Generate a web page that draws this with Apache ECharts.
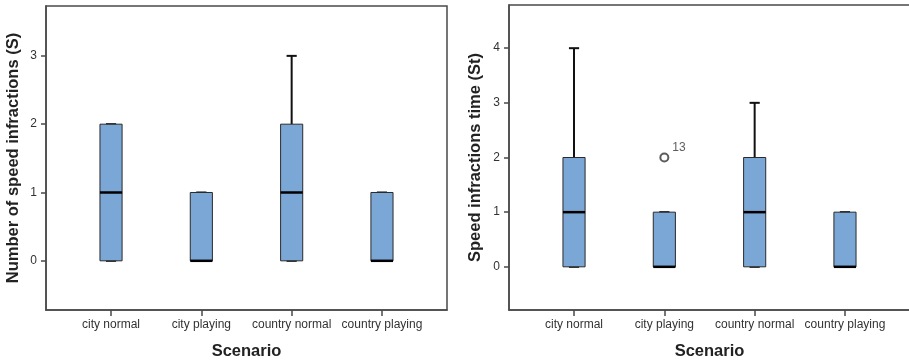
<!DOCTYPE html>
<html><head><meta charset="utf-8">
<script src="https://cdn.jsdelivr.net/npm/echarts@6/dist/echarts.min.js"></script>
<style>html,body{margin:0;padding:0;background:#fff}#c{width:909px;height:362px}</style>
</head><body><div id="c"></div>
<script>
// ---- data ----
var categories = ['city normal', 'city playing', 'country normal', 'country playing'];
// [min, q1, median, q3, max]
var countStats = [
  [0, 0, 1, 2, 2],
  [0, 0, 0, 1, 1],
  [0, 0, 1, 2, 3],
  [0, 0, 0, 1, 1]
];
var timeStats = [
  [0, 0, 1, 2, 4],
  [0, 0, 0, 1, 1],
  [0, 0, 1, 2, 3],
  [0, 0, 0, 1, 1]
];
var timeOutlierCategory = [1];
var timeOutlierValue = [2];
var timeOutlierLabel = ['13'];
var countTicks = [0, 1, 2, 3];
var timeTicks = [0, 1, 2, 3, 4];
var catTicks = [0, 1, 2, 3];

var FONT = '"Liberation Sans", Arial, sans-serif';
var FRAME = '#4a4a4a';

function renderBox(params, api) {
  var x = api.value(0);
  var mn = api.value(1), q1 = api.value(2), md = api.value(3), q3 = api.value(4), mx = api.value(5);
  var w = api.size([0.245, 0])[0];
  var capW = w * 0.46;
  var pMin = api.coord([x, mn]), pQ1 = api.coord([x, q1]), pMd = api.coord([x, md]);
  var pQ3 = api.coord([x, q3]), pMax = api.coord([x, mx]);
  var cx = pMd[0];
  var ch = [];
  if (mx > q3) {
    ch.push({type: 'line', shape: {x1: cx, y1: pQ3[1], x2: cx, y2: pMax[1]}, style: {stroke: '#111', lineWidth: 2}});
  }
  ch.push({type: 'line', shape: {x1: cx - capW / 2, y1: pMax[1], x2: cx + capW / 2, y2: pMax[1]}, style: {stroke: '#111', lineWidth: 2}});
  if (mn < q1) {
    ch.push({type: 'line', shape: {x1: cx, y1: pQ1[1], x2: cx, y2: pMin[1]}, style: {stroke: '#111', lineWidth: 2}});
  }
  ch.push({type: 'line', shape: {x1: cx - capW / 2, y1: pMin[1], x2: cx + capW / 2, y2: pMin[1]}, style: {stroke: '#111', lineWidth: 2}});
  ch.push({type: 'rect', shape: {x: cx - w / 2, y: pQ3[1], width: w, height: pQ1[1] - pQ3[1]},
    style: {fill: '#7ba7d6', stroke: '#2a2a2a', lineWidth: 1}});
  ch.push({type: 'line', shape: {x1: cx - w / 2, y1: pMd[1], x2: cx + w / 2, y2: pMd[1]}, style: {stroke: '#000', lineWidth: 2.5}});
  return {type: 'group', children: ch};
}

function toRows(stats) {
  return stats.map(function (s, i) { return [i].concat(s); });
}

function xAxisCfg(gi) {
  return {
    type: 'value', gridIndex: gi, min: -0.72, max: 3.72, position: 'bottom',
    name: 'Scenario', nameLocation: 'middle', nameGap: 33,
    nameTextStyle: {fontFamily: FONT, fontWeight: 'bold', fontSize: 16.5, color: '#222'},
    axisLine: {show: true, onZero: false, lineStyle: {color: FRAME, width: 1.5}},
    axisTick: {show: true, length: 6, lineStyle: {color: FRAME, width: 1.5}, customValues: catTicks},
    axisLabel: {show: true, margin: 9, fontFamily: FONT, fontSize: 12, color: '#333', customValues: catTicks,
      formatter: function (v) { return categories[Math.round(v)] || ''; }},
    splitLine: {show: false}
  };
}
function yAxisCfg(gi, name, mn, mx, ticks, gap) {
  return {
    type: 'value', gridIndex: gi, min: mn, max: mx, position: 'left',
    name: name, nameLocation: 'middle', nameGap: gap,
    nameTextStyle: {fontFamily: FONT, fontWeight: 'bold', fontSize: 16.5, color: '#222'},
    axisLine: {show: true, onZero: false, lineStyle: {color: FRAME, width: 1.5}},
    axisTick: {show: true, length: 5, lineStyle: {color: FRAME, width: 1.5}, customValues: ticks},
    axisLabel: {show: true, margin: 9, fontFamily: FONT, fontSize: 12, color: '#333', customValues: ticks,
      formatter: function (v) { return String(Math.round(v)); }},
    splitLine: {show: false}
  };
}

var chart = echarts.init(document.getElementById('c'), null, {renderer: 'canvas'});
chart.setOption({
  animation: false,
  backgroundColor: '#fff',
  grid: [
    {left: 46, top: 6, width: 401, height: 304, outerBoundsMode: 'none', containLabel: false,
      show: true, borderColor: FRAME, borderWidth: 1.5, backgroundColor: 'transparent'},
    {left: 509, top: 5, width: 401, height: 305, outerBoundsMode: 'none', containLabel: false,
      show: true, borderColor: FRAME, borderWidth: 1.5, backgroundColor: 'transparent'}
  ],
  xAxis: [xAxisCfg(0), xAxisCfg(1)],
  yAxis: [
    yAxisCfg(0, 'Number of speed infractions (S)', -0.72, 3.73, countTicks, 24),
    yAxisCfg(1, 'Speed infractions time (St)', -0.79, 4.79, timeTicks, 25)
  ],
  series: [
    {type: 'custom', xAxisIndex: 0, yAxisIndex: 0, renderItem: renderBox, data: toRows(countStats),
      encode: {x: 0, y: [1, 2, 3, 4, 5]}, clip: false},
    {type: 'custom', xAxisIndex: 1, yAxisIndex: 1, renderItem: renderBox, data: toRows(timeStats),
      encode: {x: 0, y: [1, 2, 3, 4, 5]}, clip: false},
    {type: 'scatter', xAxisIndex: 1, yAxisIndex: 1, symbol: 'emptyCircle', symbolSize: 8,
      itemStyle: {color: '#333', borderColor: '#333', borderWidth: 1},
      label: {show: true, position: 'right', offset: [-2, -10], fontFamily: FONT, fontSize: 12, color: '#333',
        formatter: function (p) { return timeOutlierLabel[p.dataIndex]; }},
      data: timeOutlierCategory.map(function (c, i) { return [c, timeOutlierValue[i]]; })}
  ]
});
</script>
</body></html>
